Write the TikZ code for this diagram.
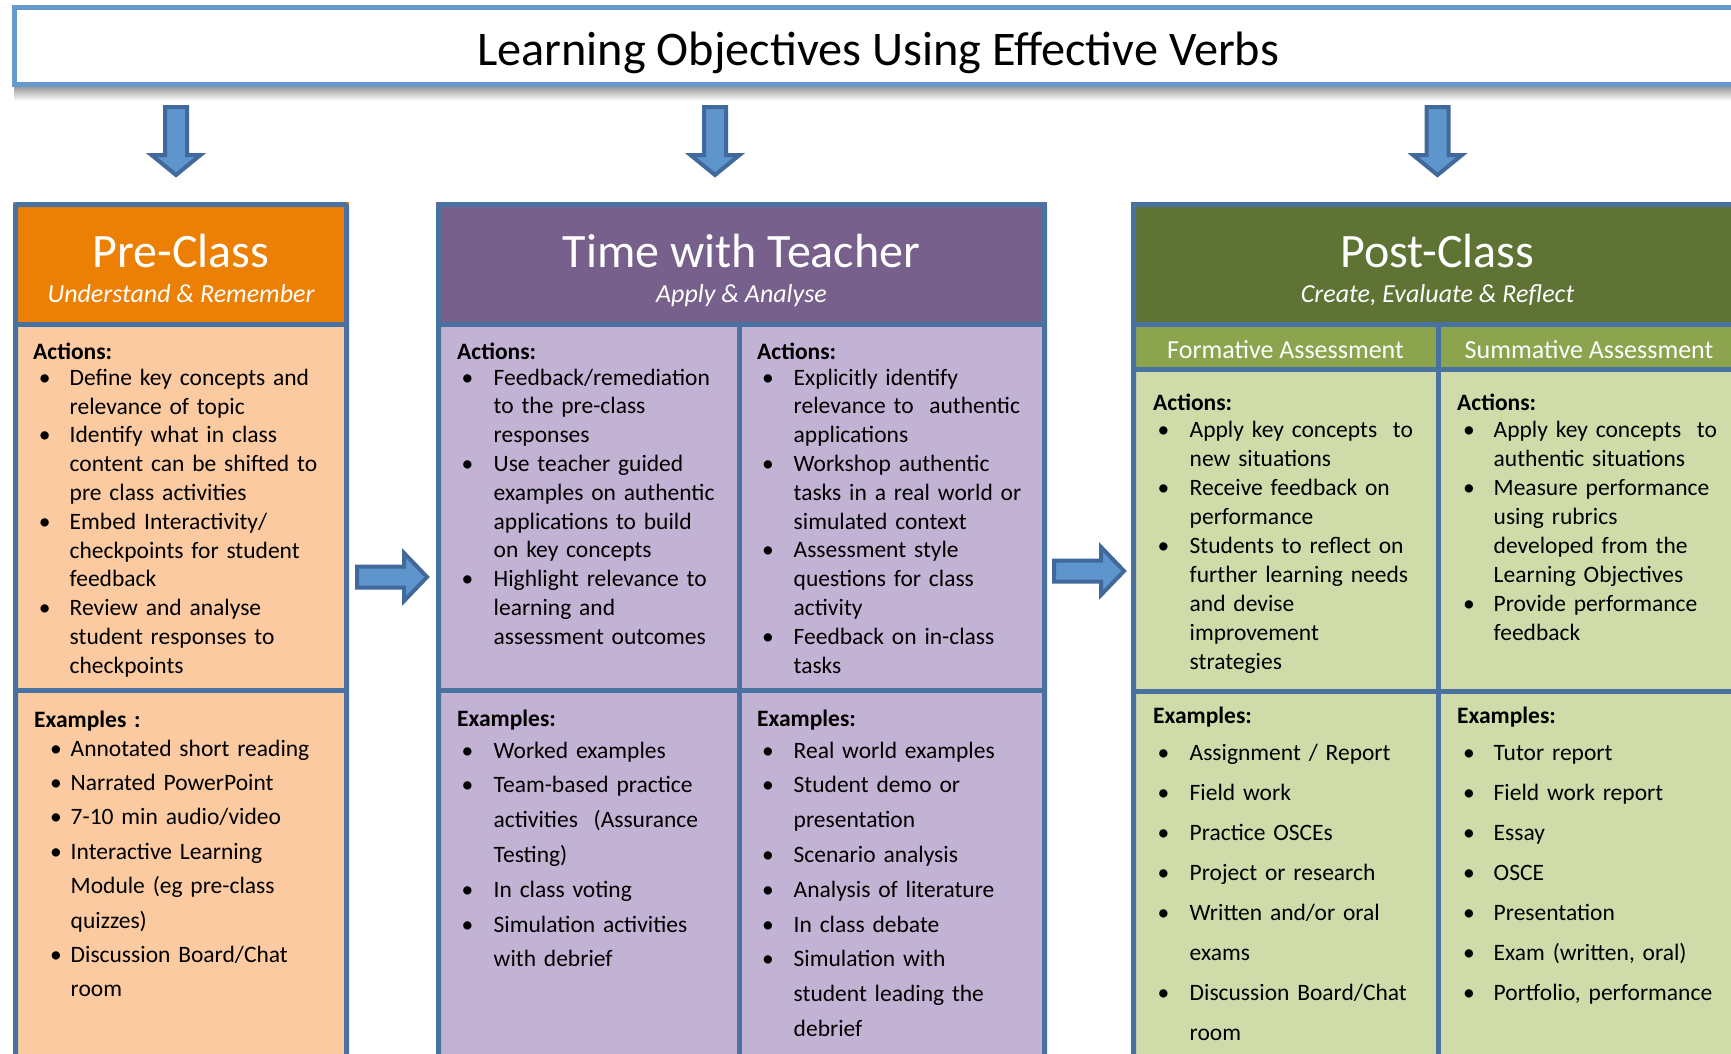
\documentclass[tikz,border=0pt]{standalone}
\usepackage{fontspec}
\setmainfont{Carlito}

\definecolor{bordblue}{HTML}{4A72A0}
\definecolor{titleblue}{HTML}{6699CC}
\definecolor{arrowfill}{HTML}{5E95CC}
\definecolor{arrowline}{HTML}{41699C}
\definecolor{preDark}{HTML}{EB8004}
\definecolor{preLight}{HTML}{FBCAA0}
\definecolor{twtDark}{HTML}{77608B}
\definecolor{twtLight}{HTML}{C2B2D4}
\definecolor{postDark}{HTML}{5F7334}
\definecolor{postMid}{HTML}{8BA44D}
\definecolor{postLight}{HTML}{CFDCAA}

% heading of a block, then a small correction of the gap below it
\newcommand{\head}[2]{{\bfseries #1}\par\vspace{#2}}
% bullet item: optional bullet offset, text always at 36.5pt, \\ keeps the hanging indent
\newcommand{\bitem}[2][5pt]{\par\hangindent=36.5pt\hangafter=1\noindent\hspace*{#1}%
  \makebox[\dimexpr36.5pt-#1\relax][l]{\textbullet}\begingroup\let\\\newline #2\endgroup\par}

\tikzset{
  panelline/.style={draw=bordblue, line width=5pt},
  blockarrow/.style={fill=arrowfill, draw=arrowline, line width=4pt, line join=miter},
  body/.style={anchor=base west, inner sep=0pt, text width=320pt, align=left,
    font=\fontsize{23.5}{28.8}\selectfont},
  exbody/.style={body, font=\fontsize{23.5}{#1}\selectfont},
  bighead/.style={anchor=base, inner sep=0pt, text=white, font=\fontsize{48}{56}\selectfont},
  subhead/.style={anchor=base, inner sep=0pt, text=white, font=\fontsize{26}{31}\selectfont\itshape},
  colhead/.style={anchor=base, inner sep=0pt, text=white, font=\fontsize{26}{31}\selectfont},
}

\begin{document}
\begin{tikzpicture}[x=1pt, y=-1pt]
  \useasboundingbox (0,0) rectangle (1731,1053);
  \clip (0,0) rectangle (1731,1053);

  % title bar
  \shade[top color=black!42, bottom color=white] (14,86) rectangle (1745,101);
  \draw[draw=titleblue, line width=5pt, fill=white] (14.5,7.5) rectangle (1742.5,84.5);
  \node[anchor=base, inner sep=0pt, font=\fontsize{48.3}{56}\selectfont] (title) at (878,65)
    {Learning Objectives Using Effective Verbs};

  % arrows
  \foreach \cx in {176, 715, 1437.5}
    \draw[blockarrow] ({\cx-11},107) -- ({\cx+11},107) -- ({\cx+11},155) -- ({\cx+24.5},155)
      -- (\cx,175) -- ({\cx-24.5},155) -- ({\cx-11},155) -- cycle;
  \foreach \sx/\cy in {357/577, 1054/571}
    \draw[blockarrow] (\sx,{\cy-10.5}) -- ({\sx+47},{\cy-10.5}) -- ({\sx+47},{\cy-24})
      -- ({\sx+70},\cy) -- ({\sx+47},{\cy+24}) -- ({\sx+47},{\cy+10.5}) -- (\sx,{\cy+10.5}) -- cycle;

  % pre-class panel
  \fill[preDark] (13,202) rectangle (349,324.5);
  \fill[preLight] (13,324.5) rectangle (349,1070);
  \draw[panelline] (13,324.5) -- (349,324.5);
  \draw[panelline] (13,690) -- (349,690);
  \draw[panelline, rounded corners=2pt] (15.5,204.5) rectangle (346.5,1075);

  % time with teacher panel
  \fill[twtDark] (436,202) rectangle (1047,324.5);
  \fill[twtLight] (436,324.5) rectangle (1047,1070);
  \draw[panelline] (436,324.5) -- (1047,324.5);
  \draw[panelline] (436,690) -- (1047,690);
  \draw[panelline] (739,324.5) -- (739,1075);
  \draw[panelline, rounded corners=2pt] (438.5,204.5) rectangle (1044.5,1075);

  % post-class panel
  \fill[postDark] (1131,202) rectangle (1744,324.5);
  \fill[postMid] (1131,324.5) rectangle (1744,369.5);
  \fill[postLight] (1131,369.5) rectangle (1744,1070);
  \draw[panelline] (1131,324.5) -- (1744,324.5);
  \draw[panelline] (1131,369.5) -- (1744,369.5);
  \draw[panelline] (1131,691) -- (1744,691);
  \draw[panelline] (1438,324.5) -- (1438,1075);
  \draw[panelline, rounded corners=2pt] (1133.5,204.5) rectangle (1741.5,1075);

  % panel headers
  \node[bighead] (pre-title) at (181,267) {Pre-Class};
  \node[subhead] (pre-sub) at (181,302) {Understand \& Remember};
  \node[bighead] (twt-title) at (741.5,267) {Time with Teacher};
  \node[subhead] (twt-sub) at (741.5,302) {Apply \& Analyse};
  \node[bighead] (post-title) at (1437.5,267) {Post-Class};
  \node[subhead] (post-sub) at (1437.5,302.5) {Create, Evaluate \& Reflect};
  \node[colhead] (form-head) at (1285.5,358) {Formative Assessment};
  \node[colhead] (summ-head) at (1589,358) {Summative Assessment};

  % pre-class texts
  \node[body] (pre-act) at (33,359) {\head{Actions:}{-2.5pt}
    \bitem[5.6pt]{Define key concepts and\\relevance of topic}
    \bitem[5.6pt]{Identify what in class\\content can be shifted to\\pre class activities}
    \bitem[5.6pt]{Embed Interactivity/\\checkpoints for student\\feedback}
    \bitem[5.6pt]{Review and analyse\\student responses to\\checkpoints}};
  \node[exbody=34.4] (pre-ex) at (34,727) {\head{Examples :}{-5.4pt}
    \bitem[16pt]{Annotated short reading}
    \bitem[16pt]{Narrated PowerPoint}
    \bitem[16pt]{7-10 min audio/video}
    \bitem[16pt]{Interactive Learning\\Module (eg pre-class\\quizzes)}
    \bitem[16pt]{Discussion Board/Chat\\room}};

  % time with teacher texts
  \node[body] (twt-act-l) at (457,359) {\head{Actions:}{-2.8pt}
    \bitem[4.5pt]{Feedback/remediation\\to the pre-class\\responses}
    \bitem[4.5pt]{Use teacher guided\\examples on authentic\\applications to build\\on key concepts}
    \bitem[4.5pt]{Highlight relevance to\\learning and\\assessment outcomes}};
  \node[body] (twt-act-r) at (757,359) {\head{Actions:}{-2.8pt}
    \bitem{Explicitly identify\\relevance to\ \ authentic\\applications}
    \bitem{Workshop authentic\\tasks in a real world or\\simulated context}
    \bitem{Assessment style\\questions for class\\activity}
    \bitem{Feedback on in-class\\tasks}};
  \node[exbody=34.8] (twt-ex-l) at (457,726) {\head{Examples:}{-2.8pt}
    \bitem[4.5pt]{Worked examples}
    \bitem[4.5pt]{Team-based practice\\activities\ \ (Assurance\\Testing)}
    \bitem[4.5pt]{In class voting}
    \bitem[4.5pt]{Simulation activities\\with debrief}};
  \node[exbody=34.8] (twt-ex-r) at (757,726) {\head{Examples:}{-2.8pt}
    \bitem{Real world examples}
    \bitem{Student demo or\\presentation}
    \bitem{Scenario analysis}
    \bitem{Analysis of literature}
    \bitem{In class debate}
    \bitem{Simulation with\\student leading the\\debrief}};

  % post-class texts
  \node[exbody=29] (form-act) at (1153,410) {\head{Actions:}{-1.3pt}
    \bitem[4.4pt]{Apply key concepts\ \ to\\new situations}
    \bitem[4.4pt]{Receive feedback on\\performance}
    \bitem[4.4pt]{Students to reflect on\\further learning needs\\and devise\\improvement\\strategies}};
  \node[exbody=29] (summ-act) at (1457,410) {\head{Actions:}{-1.3pt}
    \bitem[6pt]{Apply key concepts\ \ to\\authentic situations}
    \bitem[6pt]{Measure performance\\using rubrics\\developed from the\\Learning Objectives}
    \bitem[6pt]{Provide performance\\feedback}};
  \node[exbody=40] (form-ex) at (1153,723) {\head{Examples:}{-3pt}
    \bitem[4.4pt]{Assignment / Report}
    \bitem[4.4pt]{Field work}
    \bitem[4.4pt]{Practice OSCEs}
    \bitem[4.4pt]{Project or research}
    \bitem[4.4pt]{Written and/or oral\\exams}
    \bitem[4.4pt]{Discussion Board/Chat\\room}};
  \node[exbody=40] (summ-ex) at (1457,723) {\head{Examples:}{-3pt}
    \bitem[6pt]{Tutor report}
    \bitem[6pt]{Field work report}
    \bitem[6pt]{Essay}
    \bitem[6pt]{OSCE}
    \bitem[6pt]{Presentation}
    \bitem[6pt]{Exam (written, oral)}
    \bitem[6pt]{Portfolio, performance}};
\end{tikzpicture}
\end{document}
